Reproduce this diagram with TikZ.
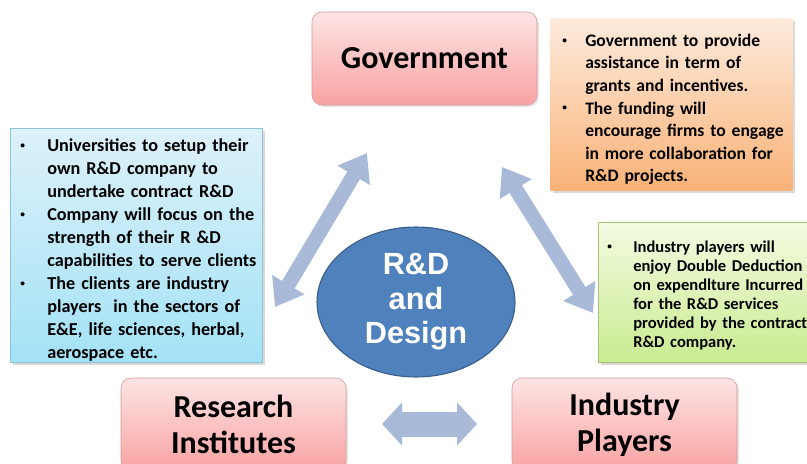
\documentclass[tikz,border=0pt]{standalone}
\usepackage{fontspec}
\setmainfont{Carlito}
\newfontfamily\hubfont{Liberation Sans}
\usetikzlibrary{shapes.geometric,arrows.meta,shadows}

\definecolor{pinktop}{HTML}{FDE4E4}
\definecolor{pinkbot}{HTML}{F9A2A2}
\definecolor{pinkline}{HTML}{D49898}
\definecolor{orangetop}{HTML}{FDEBDD}
\definecolor{orangebot}{HTML}{F9B277}
\definecolor{bluetop}{HTML}{DDF1FA}
\definecolor{bluebot}{HTML}{A3E2F6}
\definecolor{blueline}{HTML}{8FC3D8}
\definecolor{greentop}{HTML}{F4FBE2}
\definecolor{greenbot}{HTML}{C9EB90}
\definecolor{greenline}{HTML}{A8C27A}
\definecolor{hubfill}{HTML}{4F81BD}
\definecolor{hubline}{HTML}{385D8A}
\definecolor{arrowblue}{HTML}{A8BAD8}

\newlength{\bulhang}
\newcommand{\bul}[1]{\par\noindent\hangindent=\bulhang\hangafter=1%
    \makebox[\bulhang][l]{\raisebox{0.18em}{\fontsize{7pt}{7pt}\selectfont\textbullet}}#1\par}

\tikzset{
    actor/.style={draw=pinkline, rounded corners=7.5pt, top color=pinktop, bottom color=pinkbot,
        minimum width=168.75pt, minimum height=69.75pt, align=center,
        font=\bfseries\fontsize{24pt}{27pt}\selectfont,
        drop shadow={shadow xshift=1.5pt, shadow yshift=-1.5pt, opacity=0.2}},
    notebox/.style={anchor=north west, inner xsep=0pt, inner ysep=0pt,
        drop shadow={shadow xshift=2pt, shadow yshift=-2pt, opacity=0.3}},
    slantarrow/.style={draw=arrowblue, line width=11pt,
        {Triangle[width=27pt, length=19.5pt]}-{Triangle[width=27pt, length=19.5pt]}},
    flatarrow/.style={draw=arrowblue, line width=18.75pt,
        {Triangle[width=31.5pt, length=15pt]}-{Triangle[width=31.5pt, length=15pt]}}
}

\begin{document}
\begin{tikzpicture}[x=0.75pt, y=-0.75pt]
    \useasboundingbox (0,0) rectangle (807,464);
    \clip (0,0) rectangle (807,464);

    \node[actor] (gov) at (424.5,58.5) {Government};
    \node[actor] (res) at (233.5,424.5) {Research\\Institutes};
    \node[actor] (ind) at (624.5,424.5) {Industry\\Players};

    \node[notebox, top color=bluetop, bottom color=bluebot, draw=blueline, line width=0.4pt,
        text width=189pt, minimum height=175.5pt,
        font=\bfseries\fontsize{13.65pt}{17.25pt}\selectfont] (uni) at (10,128) {%
        \leftskip=7.5pt \setlength{\bulhang}{20.25pt}%
        \bul{Universities to setup their\newline own R\&D company to\newline undertake contract R\&D}%
        \bul{Company will focus on the\newline strength of their R \&D\newline
            capabilities to serve clients}%
        \bul{The clients are industry\newline players\ \ in the sectors of\newline
            E\&E, life sciences, herbal,\newline aerospace etc.}};

    \node[notebox, top color=orangetop, bottom color=orangebot,
        text width=181.5pt, minimum height=129pt,
        font=\bfseries\fontsize{13.2pt}{16.9pt}\selectfont] (fund) at (550,18) {%
        \leftskip=9pt \setlength{\bulhang}{17.25pt}%
        \bul{Government to provide\newline assistance in term of\newline grants and incentives.}%
        \bul{The funding will\newline encourage firms to engage\newline in more collaboration for\newline
            R\&D projects.}};

    \node[notebox, top color=greentop, bottom color=greenbot, draw=greenline, line width=0.4pt,
        text width=174pt, minimum height=105pt,
        font=\bfseries\fontsize{12.4pt}{14.25pt}\selectfont] (tax) at (598,222) {%
        \leftskip=6.75pt \setlength{\bulhang}{19.5pt}%
        \bul{Industry players will\newline enjoy Double Deduction\newline on expendlture Incurred\newline
            for the R\&D services\newline provided by the contract\newline R\&D company.}};

    \node[ellipse, draw=hubline, line width=0.8pt, fill=hubfill, minimum width=148.5pt, minimum height=112.5pt,
        inner sep=0pt, align=center, text=white,
        font=\hubfont\bfseries\fontsize{23pt}{25.9pt}\selectfont] (hub) at (416,302) {R\&D\\and\\Design};

    \coordinate (la) at (275,307);
    \coordinate (lb) at (367,153);
    \coordinate (ra) at (502,167);
    \coordinate (rb) at (593,313);
    \coordinate (ba) at (382,424);
    \coordinate (bb) at (477,424);
    \draw[slantarrow] (la) -- (lb);
    \draw[slantarrow] (ra) -- (rb);
    \draw[flatarrow] (ba) -- (bb);
\end{tikzpicture}
\end{document}
